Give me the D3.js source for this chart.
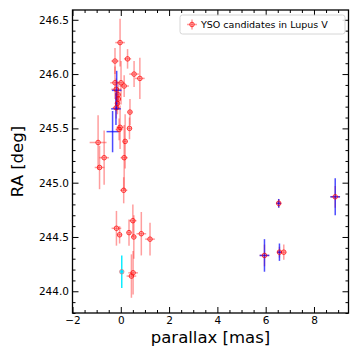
<!DOCTYPE html>
<html><head><meta charset="utf-8">
<script src="https://cdn.jsdelivr.net/npm/d3@7"></script>
<style>body{margin:0;background:#fff}svg{display:block}</style>
</head><body>
<svg id="c" width="360" height="360"></svg>
<script>
// Red series: all YSO candidates
const redX    = [-0.03,-0.24,0.28,0.55,0.79,-0.24,0.01,0.14,-0.19,-0.11,-0.10,-0.14,-0.19,0.38,-0.03,-0.07,0.36,0.18,-0.94,-0.69,0.14,-0.88,0.12,0.50,-0.18,0.34,-0.05,0.54,0.85,1.21,0.51,0.44,6.54,8.88,5.95,6.57,6.75];
const redY    = [246.29,246.12,246.14,246.00,245.96,245.92,245.92,245.89,245.86,245.81,245.77,245.73,245.69,245.65,245.51,245.49,245.50,245.38,245.37,245.23,245.23,245.14,244.93,244.65,244.58,244.54,244.52,244.50,244.53,244.48,244.17,244.14,244.81,244.87,244.33,244.36,244.36];
const redXerr = [0.20,0.15,0.15,0.20,0.20,0.20,0.15,0.20,0.20,0.10,0.10,0.10,0.15,0.10,0.15,0.15,0.10,0.10,0.35,0.20,0.15,0.20,0.15,0.15,0.20,0.10,0.10,0.10,0.20,0.20,0.20,0.20,0.10,0.20,0.20,0.10,0.10];
const redYerr = [0.22,0.12,0.09,0.12,0.19,0.15,0.20,0.10,0.10,0.10,0.10,0.10,0.10,0.12,0.20,0.10,0.10,0.25,0.25,0.25,0.30,0.20,0.12,0.15,0.16,0.12,0.08,0.20,0.20,0.15,0.20,0.20,0.04,0.10,0.10,0.05,0.07];
// Blue subset
const blueX    = [-0.17,-0.20,-0.34,6.54,8.88,5.95,6.57];
const blueY    = [245.85,245.68,245.47,244.81,244.87,244.33,244.36];
const blueXerr = [0.20,0.20,0.25,0.10,0.20,0.20,0.10];
const blueYerr = [0.18,0.15,0.19,0.04,0.17,0.15,0.08];
// Cyan point
const cyanX = [0.04], cyanY = [244.18], cyanXerr = [0.05], cyanYerr = [0.15];

const xMajor = [-2,0,2,4,6,8];
const yMajor = [244.0,244.5,245.0,245.5,246.0,246.5];
const legendLabel = "YSO candidates in Lupus V";
const xLabel = "parallax [mas]";
const yLabel = "RA [deg]";

const L=72.5, R=348.5, T=10, B=313;
const x = d3.scaleLinear().domain([-2.0, 9.43]).range([L, R]);
const y = d3.scaleLinear().domain([243.80, 246.59]).range([B, T]);
const svg = d3.select("#c");
const font = "DejaVu Sans, sans-serif";

function series(g, X, Y, XE, YE, color, width){
  const d = X.map((v,i)=>({x:v,y:Y[i],xe:XE[i],ye:YE[i]}));
  g.selectAll(null).data(d).enter().append("line")
    .attr("x1",e=>x(e.x)).attr("x2",e=>x(e.x))
    .attr("y1",e=>y(e.y-e.ye)).attr("y2",e=>y(e.y+e.ye))
    .attr("stroke",color).attr("stroke-width",width);
  g.selectAll(null).data(d).enter().append("line")
    .attr("x1",e=>x(e.x-e.xe)).attr("x2",e=>x(e.x+e.xe))
    .attr("y1",e=>y(e.y)).attr("y2",e=>y(e.y))
    .attr("stroke",color).attr("stroke-width",width);
  return d;
}
const gd = svg.append("g");
const rd = series(gd, redX, redY, redXerr, redYerr, "rgba(255,40,40,0.45)", 1.5);
series(gd, blueX, blueY, blueXerr, blueYerr, "rgba(0,0,255,0.7)", 1.5);
series(gd, cyanX, cyanY, cyanXerr, cyanYerr, "rgba(0,235,255,0.95)", 1.5);
gd.selectAll(null).data(rd).enter().append("circle")
  .attr("cx",e=>x(e.x)).attr("cy",e=>y(e.y)).attr("r",2.3)
  .attr("fill","rgba(255,0,0,0.15)").attr("stroke","rgba(255,0,0,0.7)").attr("stroke-width",1);
gd.selectAll(null).data(cyanX.map((v,i)=>({x:v,y:cyanY[i]}))).enter().append("circle")
  .attr("cx",e=>x(e.x)).attr("cy",e=>y(e.y)).attr("r",2.3)
  .attr("fill","rgba(0,220,255,0.7)").attr("stroke","rgba(255,80,80,0.5)").attr("stroke-width",1);

// axes
function ax(axisFn, scale, vals, size, fmt, transform, labels){
  const a = axisFn(scale).tickValues(vals).tickSize(size).tickPadding(3.5);
  a.tickFormat(labels ? fmt : "");
  const g = svg.append("g").attr("transform",transform).call(a);
  g.select(".domain").remove();
  g.selectAll("line").attr("stroke","#000").attr("stroke-width",1);
  g.selectAll("text").attr("font-family",font).attr("font-size",10.5).attr("fill","#000");
  return g;
}
const xMinor = d3.range(-2, 9.5, 0.5).filter(v=>Math.abs(v/2-Math.round(v/2))>1e-6);
const yMinor = d3.range(243.8, 246.6, 0.1).map(v=>+v.toFixed(1)).filter(v=>Math.abs(v*2-Math.round(v*2))>1e-6 && v>=243.8 && v<=246.59);
const fx = d3.format("d"), fy = d3.format(".1f");
ax(d3.axisBottom, x, xMajor, -6, fx, `translate(0,${B})`, true);
ax(d3.axisBottom, x, xMinor, -3, fx, `translate(0,${B})`, false);
ax(d3.axisTop, x, xMajor, -6, fx, `translate(0,${T})`, false);
ax(d3.axisTop, x, xMinor, -3, fx, `translate(0,${T})`, false);
ax(d3.axisLeft, y, yMajor, -6, fy, `translate(${L},0)`, true);
ax(d3.axisLeft, y, yMinor, -3, fy, `translate(${L},0)`, false);
ax(d3.axisRight, y, yMajor, -6, fy, `translate(${R},0)`, false);
ax(d3.axisRight, y, yMinor, -3, fy, `translate(${R},0)`, false);

svg.append("rect").attr("x",L).attr("y",T).attr("width",R-L).attr("height",B-T)
  .attr("fill","none").attr("stroke","#000").attr("stroke-width",1.3);

svg.append("text").attr("x",(L+R)/2).attr("y",343).attr("text-anchor","middle")
  .attr("font-family",font).attr("font-size",16.5).text(xLabel);
svg.append("text").attr("transform",`translate(23,${(T+B)/2}) rotate(-90)`).attr("text-anchor","middle")
  .attr("font-family",font).attr("font-size",16.5).text(yLabel);

// legend
const lg = svg.append("g");
lg.append("rect").attr("x",180).attr("y",15).attr("width",165).attr("height",19).attr("rx",2.5)
  .attr("fill","rgba(255,255,255,0.85)").attr("stroke","#ccc").attr("stroke-width",0.8);
lg.append("line").attr("x1",187).attr("x2",197).attr("y1",24.5).attr("y2",24.5).attr("stroke","rgba(255,40,40,0.45)").attr("stroke-width",1.5);
lg.append("line").attr("x1",192).attr("x2",192).attr("y1",19.5).attr("y2",29.5).attr("stroke","rgba(255,40,40,0.45)").attr("stroke-width",1.5);
lg.append("circle").attr("cx",192).attr("cy",24.5).attr("r",2.3)
  .attr("fill","rgba(255,0,0,0.15)").attr("stroke","rgba(255,0,0,0.7)").attr("stroke-width",1);
lg.append("text").attr("x",201).attr("y",28).attr("font-family",font).attr("font-size",9.5).text(legendLabel);
</script>
</body></html>
